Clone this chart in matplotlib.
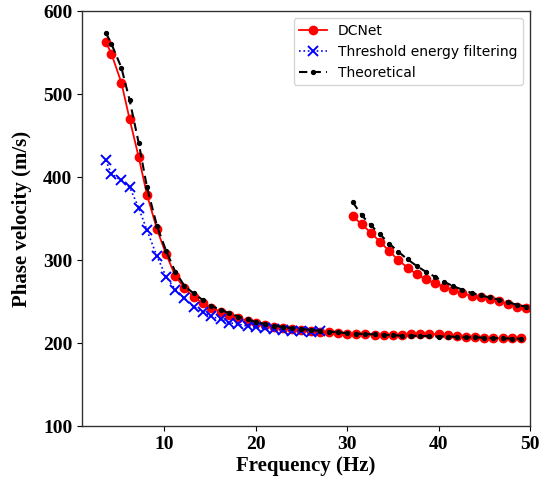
import matplotlib
matplotlib.use("Agg")
import matplotlib.pyplot as plt

# ---- data ----
f_low = [3.6, 4.2, 5.3, 6.2, 7.2, 8.1, 9.2, 10.2, 11.2, 12.2, 13.2, 14.2, 15.1, 16.2,
         17.1, 18.1, 19.1, 20.0, 21, 22, 23, 24, 25, 26, 27, 28, 29, 30, 31, 32, 33,
         34, 35, 36, 37, 38, 39, 40, 41, 42, 43, 44, 45, 46, 47, 48, 49]
dcnet_low = [563, 549, 514, 470, 424, 379, 337, 307, 281, 266, 256, 248, 242.5, 238,
             234, 230, 227, 224, 222, 220, 218.5, 217, 216, 215, 214, 213, 212, 211.5,
             211, 210.5, 210, 209.5, 209.5, 210, 210.5, 211, 211, 210.5, 209.5, 208.5,
             207.5, 207, 206.5, 206, 206, 206, 206.5]
theory_low = [574, 561, 532, 493, 441, 388, 341, 311, 286, 269, 260, 252, 245, 240,
              236, 232, 228.5, 225.5, 223, 221, 219.5, 218, 217, 216, 215, 214, 213,
              212, 211.5, 211, 210.5, 210, 209.5, 209, 209, 208.5, 208.5, 208, 208,
              207.5, 207, 207, 206.5, 206, 206, 205.5, 205.5]

f_thr = [3.6, 4.2, 5.3, 6.2, 7.2, 8.1, 9.2, 10.2, 11.2, 12.2, 13.2, 14.2, 15.1, 16.2,
         17.1, 18.1, 19.1, 20.0, 21, 22, 23, 24, 25, 26, 27]
threshold = [420.5, 404, 396, 388, 363, 336, 304.5, 280, 264.6, 253.8, 243.7, 237.7,
             232.5, 228.5, 224.5, 223, 220.5, 219, 218, 217, 216, 215, 214.5, 214, 214.5]

f_high = [30.6, 31.6, 32.6, 33.6, 34.6, 35.6, 36.6, 37.6, 38.6, 39.6, 40.6, 41.6, 42.6,
          43.6, 44.6, 45.6, 46.6, 47.6, 48.6, 49.6]
dcnet_high = [353, 343, 333, 322, 311, 300, 291, 283, 277, 272, 268, 264, 260, 257,
              255.5, 253.5, 250.5, 247, 243.5, 242.5]
theory_high = [370, 354, 342, 331, 320, 310, 301, 293, 286, 280, 274, 268.5, 264.5,
               260.5, 257.5, 255, 252.5, 249.5, 246, 244]

x_ticks = [10, 20, 30, 40, 50]
y_ticks = [100, 200, 300, 400, 500, 600]

# ---- figure ----
fig = plt.figure(figsize=(5.47, 4.87), dpi=100)
ax = fig.add_axes([0.150, 0.125, 0.819, 0.852])

red_kw = dict(color="#ff0000", linestyle="-", linewidth=1.3, marker="o", markersize=6)
blue_kw = dict(color="#0000ff", linestyle=":", linewidth=1.2, marker="x", markersize=7,
               markeredgewidth=1.4)
blk_kw = dict(color="black", linestyle="--", linewidth=1.5, marker="o", markersize=2.8,
              dashes=(4, 2.5))

ax.plot(f_low, dcnet_low, label="DCNet", **red_kw)
ax.plot(f_high, dcnet_high, **red_kw)
ax.plot(f_thr, threshold, label="Threshold energy filtering", **blue_kw)
ax.plot(f_low, theory_low, label="Theoretical", **blk_kw)
ax.plot(f_high, theory_high, **blk_kw)

ax.set_xlim(1, 50)
ax.set_ylim(100, 600)
ax.set_xticks(x_ticks)
ax.set_yticks(y_ticks)

tick_font = dict(family="Liberation Serif", weight="bold", size=14)
ax.set_xticklabels([str(t) for t in x_ticks], fontdict=tick_font)
ax.set_yticklabels([str(t) for t in y_ticks], fontdict=tick_font)
ax.set_xlabel("Frequency (Hz)", family="Liberation Serif", weight="bold", size=15,
              labelpad=2)
ax.set_ylabel("Phase velocity (m/s)", family="Liberation Serif", weight="bold",
              size=15, labelpad=8)

for s in ax.spines.values():
    s.set_color("#333333")
    s.set_linewidth(1.0)

ax.legend(loc="upper right", fontsize=10, frameon=True)

fig.savefig("out.png", dpi=100)
